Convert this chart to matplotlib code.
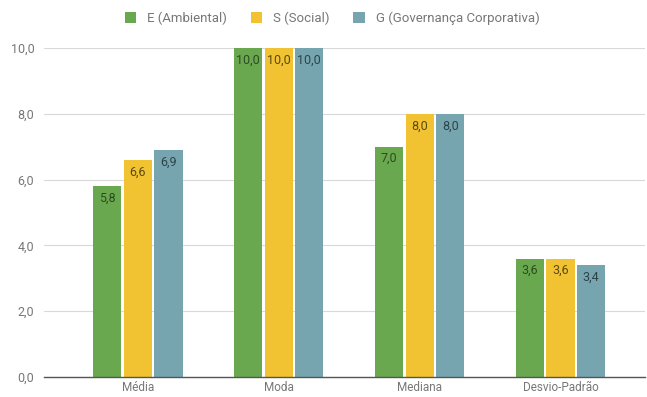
import matplotlib
matplotlib.use("Agg")
import matplotlib.pyplot as plt
import numpy as np
from matplotlib.patches import Patch

plt.rcParams['font.family'] = ['Roboto', 'DejaVu Sans']

categories = ["Média", "Moda", "Mediana", "Desvio-Padrão"]
series_names = ["E (Ambiental)", "S (Social)", "G (Governança Corporativa)"]
e_vals = [5.8, 10.0, 7.0, 3.6]
s_vals = [6.6, 10.0, 8.0, 3.6]
g_vals = [6.9, 10.0, 8.0, 3.4]
colors = ["#6aa84f", "#f1c232", "#76a5af"]
label_colors = ["#2d4a20", "#5a4a10", "#2c4448"]
yticks = [0, 2, 4, 6, 8, 10]

fig = plt.figure(figsize=(6.47, 3.97), dpi=100)
ax = fig.add_axes([44/647, 20/397, (645-44)/647, (377-48)/397])

x = np.arange(len(categories))
bw = 0.2
step = 0.217
for i, (vals, c, lc) in enumerate(zip([e_vals, s_vals, g_vals], colors, label_colors)):
    pos = x + (i - 1) * step
    bars = ax.bar(pos, vals, width=bw, color=c, zorder=3)
    for b, v in zip(bars, vals):
        ax.annotate(f"{v:.1f}".replace(".", ","), (b.get_x() + b.get_width()/2, v),
                    xytext=(0, -4), textcoords="offset points", ha="center", va="top",
                    fontsize=9, color=lc, zorder=4)

ax.set_xlim(-0.667, 3.6)
ax.set_ylim(0, 10)
ax.set_yticks(yticks)
ax.set_yticklabels([f"{t:.1f}".replace(".", ",") for t in yticks])
ax.set_xticks(x)
ax.set_xticklabels(categories)
ax.grid(axis="y", color="#d9d9d9", linewidth=0.8, zorder=0)
for s in ["top", "right", "left"]:
    ax.spines[s].set_visible(False)
ax.spines["bottom"].set_color("#555555")
ax.spines["bottom"].set_linewidth(1.0)
ax.spines["bottom"].set_zorder(5)
ax.tick_params(axis="y", length=0, labelsize=9, colors="#777777", pad=7)
ax.tick_params(axis="x", length=0, labelsize=8.5, colors="#777777", pad=3)

handles = [Patch(facecolor=c, edgecolor='none') for c in colors]
fig.legend(handles, series_names, loc="center", bbox_to_anchor=(332/647, 1 - 18/397),
           ncol=3, frameon=False, fontsize=9.5, handlelength=0.9, handleheight=0.9,
           handletextpad=0.8, columnspacing=1.8, labelcolor="#777777")

fig.savefig("out.png", dpi=100)
